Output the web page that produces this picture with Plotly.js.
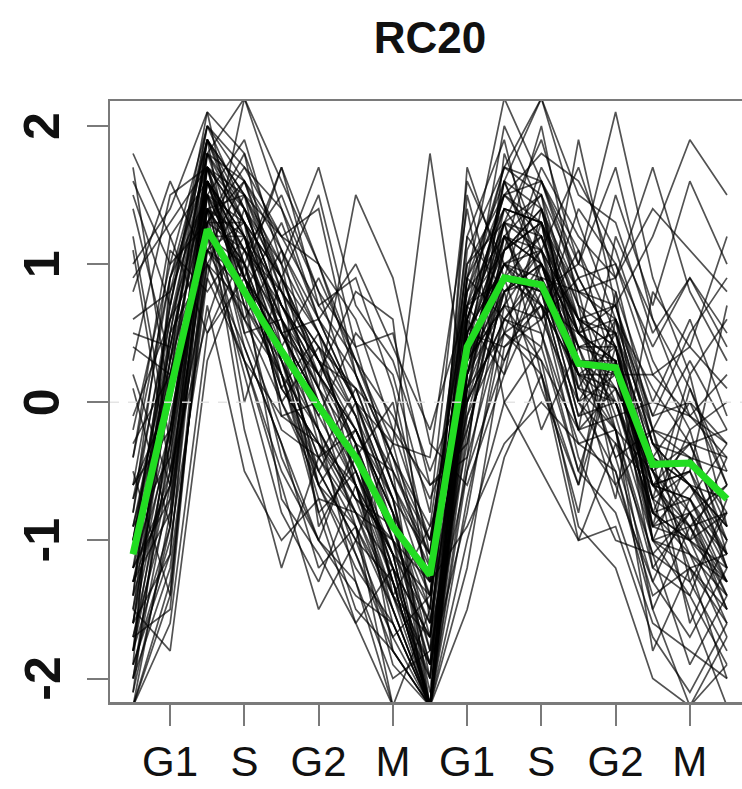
<!DOCTYPE html>
<html>
<head>
<meta charset="utf-8">
<script src="https://cdn.plot.ly/plotly-3.0.1.min.js"></script>
<style>
html,body{margin:0;padding:0;overflow:hidden;background:#fff;}
#chart{width:750px;height:789px;}
</style>
</head>
<body>
<div id="chart"></div>
<script>
// time points (17 samples across two cell cycles)
const timepoints = [1,2,3,4,5,6,7,8,9,10,11,12,13,14,15,16,17];
const tickPositions = [2,4,6,8,10,12,14,16];
const tickLabels = ["G1","S","G2","M","G1","S","G2","M"];
const yTickValues = [-2,-1,0,1,2];
const yTickLabels = ["-2","-1","0","1","2"];

// cluster mean profile (green)
const meanProfile = [-1.1,0.05,1.25,0.8,0.37,-0.03,-0.4,-0.9,-1.25,0.4,0.9,0.85,0.28,0.25,-0.45,-0.44,-0.7];

// individual gene profiles (black)
const g01 = [-1.8,-0.5,1.6,1.2,0.6,0.1,-0.5,-1.2,-2.2,0.2,1.1,1.3,0.5,0.3,-0.8,-1.0,-1.3];
const g02 = [-1.5,0.3,1.9,1.5,0.9,0.2,-0.2,-0.9,-1.9,0.6,1.5,1.2,0.6,0.0,-0.6,-0.9,-1.5];
const g03 = [-2.2,-0.8,1.4,1.0,0.3,-0.4,-0.8,-1.5,-2.2,-0.2,0.8,1.0,0.1,-0.2,-1.1,-1.3,-1.8];
const g04 = [1.8,1.2,0.5,0.9,1.7,1.0,0.2,-0.6,-1.4,1.2,1.9,0.8,1.0,1.7,0.6,0.1,-0.5];
const g05 = [1.5,0.7,2.1,1.8,1.1,0.5,0.0,-0.7,-1.1,0.9,2.2,1.6,0.8,0.9,-0.2,0.3,-0.2];
const g06 = [-0.9,0.4,1.7,0.6,0.2,-0.6,-1.2,-1.6,-2.2,0.0,0.6,0.5,-0.3,-0.5,-1.4,-1.2,-1.6];
const g07 = [-1.2,-0.2,1.3,1.6,0.8,0.4,-0.1,-1.0,-1.6,0.3,1.2,1.5,0.9,0.4,-0.3,-0.6,-0.9];
const g08 = [0.8,1.6,1.0,0.3,-0.5,-1.0,-1.3,-2.0,-1.8,-0.5,0.3,0.9,0.4,-0.2,-1.5,-2.2,-1.9];
const g09 = [-2.0,-1.2,0.9,2.2,1.4,0.6,0.2,-0.4,-1.0,0.8,1.7,2.2,1.3,0.6,0.1,-0.3,-0.2];
const g10 = [-0.4,0.9,1.5,0.4,-0.3,-1.2,-0.9,-2.2,-2.2,-1.0,0.0,0.4,-0.5,-0.8,-1.6,-1.8,-2.0];
const g11 = [1.2,-0.3,1.8,1.3,0.5,-0.1,0.5,0.2,-0.8,1.6,1.0,0.6,1.4,1.0,0.4,0.9,0.4];
const g12 = [-1.6,0.1,1.2,0.2,-0.8,-1.3,-0.6,-1.1,-1.4,0.1,0.5,0.2,-0.6,0.8,-1.0,-0.4,-1.2];
const g13 = [-0.2,1.0,2.0,1.4,1.0,1.7,0.7,0.3,-0.5,0.2,1.3,1.9,1.0,2.1,0.9,0.2,0.6];
const g14 = [-1.9,-1.0,0.7,-0.5,-1.0,-0.7,-1.5,-1.8,-2.2,-1.5,-0.4,0.2,-1.0,-0.9,-1.7,-2.1,-1.6];
const g15 = [0.4,0.2,1.1,0.8,1.3,0.6,1.0,0.4,-0.2,0.7,0.3,1.0,0.5,0.7,1.2,1.9,1.5];
const g16 = [-1.3,-0.6,1.5,1.9,1.0,-0.2,-0.7,-0.9,-1.3,0.5,1.0,0.7,0.2,0.1,-0.5,-0.3,-0.9];
const g17 = [-0.7,0.6,1.8,1.0,0.0,-0.5,-1.0,-1.3,-2.2,0.9,1.4,1.3,0.0,0.5,-0.9,-0.6,-1.1];
const g18 = [1.0,1.4,2.1,0.9,0.4,0.9,0.3,-0.3,1.8,0.0,0.6,0.4,1.9,0.7,-0.1,0.5,0.9];
const g19 = [-2.2,-1.6,0.5,1.1,1.5,0.8,0.0,-1.4,-1.9,-0.8,0.7,1.6,1.1,0.2,-0.7,-1.5,-2.2];
const g20 = [-1.0,0.0,1.4,-0.2,-1.2,-0.4,0.1,-0.6,-1.1,1.2,0.8,-0.2,0.4,-0.4,-0.2,-1.0,-0.4];
const g21 = [0.1,-0.9,1.6,1.1,0.7,0.3,-0.3,-1.8,-2.2,0.4,1.6,0.9,-0.1,0.3,-1.2,-0.8,-1.4];
const g22 = [-1.4,0.5,1.0,1.5,0.4,-0.8,-1.6,-1.2,-1.7,-0.3,1.1,2.0,0.7,-0.6,-0.2,-1.3,-0.8];
const g23 = [1.4,0.3,1.9,0.5,-0.2,-0.4,-0.2,-0.8,-1.5,1.5,0.5,0.3,-0.2,1.2,0.6,-0.1,0.2];
const g24 = [-0.5,-1.4,1.3,1.7,1.2,1.0,0.6,-0.2,-0.6,-0.4,1.8,1.1,0.6,-0.1,0.0,0.6,-0.1];
const g25 = [-1.7,-0.4,1.7,0.7,-0.4,-1.0,-0.3,-0.5,-2.2,0.6,0.2,1.4,0.3,0.2,-0.4,-1.6,-1.0];
const g26 = [-0.8,1.1,0.8,1.2,0.1,0.5,-0.6,-1.4,-0.9,1.0,1.3,0.2,-0.8,0.6,-0.9,0.1,-0.6];
const g27 = [0.6,0.8,1.5,0.0,0.9,-0.9,-0.4,0.0,-1.2,-0.1,0.9,1.7,1.2,0.9,1.7,0.8,0.3];
const g28 = [-2.1,-0.1,1.1,1.3,-0.1,0.0,-0.9,-1.9,-2.2,-1.2,0.4,0.7,-0.4,-1.0,-1.1,-1.9,-1.4];
const g29 = [-1.1,0.7,2.0,1.7,1.4,0.8,0.4,-0.5,-1.0,0.8,1.5,1.8,1.6,1.1,0.3,-0.2,0.0];
const g30 = [0.2,-0.6,0.9,0.3,-0.6,-1.5,-1.0,-0.3,-0.4,1.4,0.0,-0.5,-1.0,-0.3,-0.6,-0.5,0.7];
const g31 = [-1.6,-1.1,1.6,0.9,0.5,0.2,0.8,0.6,-1.6,0.3,1.2,0.6,0.9,0.4,-0.5,-1.1,-1.7];
const g32 = [1.6,1.0,1.3,1.8,0.6,-0.3,-1.1,-1.7,-1.4,0.5,2.0,1.4,0.3,-0.4,-1.3,-0.7,-0.3];
const g33 = [-0.3,0.2,1.2,0.6,1.1,0.1,1.5,0.9,-0.3,-0.6,0.2,0.8,0.2,-0.7,0.8,0.4,1.2];
const g34 = [-1.9,0.9,1.9,1.2,0.2,-0.8,-0.5,-1.1,-2.2,0.1,1.3,0.5,-0.5,0.4,-1.0,-1.4,-0.7];
const g35 = [-1.2,-0.7,1.0,0.7,0.3,-0.2,-1.3,-2.2,-1.5,0.9,0.6,0.9,0.8,-0.2,-1.8,-1.2,-2.0];
const g36 = [0.9,1.3,1.7,1.4,0.7,0.3,0.1,-0.2,-1.0,0.4,1.0,1.2,0.5,0.2,0.2,-0.1,-0.4];
const g37 = [-0.6,0.0,1.4,0.5,0.6,-0.6,-0.2,-0.7,-1.8,1.7,0.9,0.1,-0.6,0.3,-0.8,-0.2,-1.1];
const g38 = [-1.5,-1.8,0.3,1.0,0.0,0.4,-0.4,-1.3,-2.2,-0.7,0.5,1.3,0.0,-0.5,-1.5,-0.9,-1.3];
const g39 = [0.5,0.4,1.8,2.2,1.6,1.0,0.3,-0.1,-0.7,0.0,1.6,2.2,1.5,1.3,0.5,0.9,0.5];
const g40 = [-1.3,-0.3,1.6,0.8,-0.7,-1.1,-1.6,-2.2,-2.2,0.2,0.7,0.3,-0.9,-1.2,-2.0,-2.2,-1.7];
const g41 = [-0.1,0.6,1.1,1.6,1.2,1.4,0.2,-0.4,-0.9,-0.2,0.8,1.1,1.7,0.9,1.4,1.1,0.8];
const g42 = [-1.8,-0.9,1.5,1.1,0.4,-0.5,0.0,-0.3,-1.3,0.6,1.4,1.0,0.2,0.0,-0.7,0.2,-0.9];
const g43 = [1.7,0.0,1.4,0.9,0.2,-0.7,-0.8,-1.4,-1.7,1.1,1.7,1.5,0.1,0.6,-0.3,-0.8,-0.6];
const g44 = [-1.0,0.3,1.2,1.0,1.7,0.7,0.9,0.1,-1.1,0.5,0.4,0.6,1.1,0.5,-0.4,0.0,-0.3];
const g45 = [-2.2,-1.3,1.0,0.4,-0.3,-1.0,-1.4,-1.6,-2.2,-0.5,0.9,0.8,-0.2,-0.6,-1.3,-1.7,-1.2];
const g46 = [0.3,1.5,1.7,1.3,0.5,0.6,0.0,-0.5,-1.1,1.0,1.5,1.6,0.9,1.0,0.2,0.4,0.1];
const g47 = [-0.6,-0.2,1.3,0.3,-0.1,-0.3,-0.7,-1.0,-1.3,-0.9,-0.3,0.0,-0.3,-0.2,-0.5,-0.9,-0.8];
const g48 = [-1.4,0.8,1.9,1.5,0.8,0.0,-0.4,-1.2,-2.0,0.7,1.1,1.4,0.7,0.2,-0.6,-0.5,-1.0];
const g49 = [1.1,-0.5,0.6,1.4,0.9,1.5,0.4,0.5,-0.6,-0.3,1.2,0.7,0.5,1.5,0.7,1.6,1.0];
const g50 = [-1.7,-1.5,1.2,1.2,0.3,-0.6,-1.1,-1.8,-2.2,0.3,0.7,1.1,0.0,-0.3,-1.1,-0.8,-1.5];
const g51 = [-1.3,-0.8,1.7,1.3,0.9,0.3,-0.2,-0.8,-2.1,0.5,1.2,1.0,0.4,0.4,-0.6,-0.7,-1.1];
const g52 = [-0.9,0.2,1.6,1.2,0.5,0.0,-0.6,-1.1,-1.6,0.4,1.0,0.9,0.3,0.1,-0.4,-0.6,-0.9];
const g53 = [-1.6,-0.3,1.4,1.0,0.6,0.1,-0.3,-1.0,-1.9,0.2,0.9,1.2,0.5,0.3,-0.7,-0.5,-1.2];
const g54 = [-1.0,0.5,1.8,1.4,0.7,0.2,-0.5,-1.3,-2.2,0.6,1.3,1.1,0.2,0.2,-0.9,-1.0,-0.8];
const g55 = [-2.0,-0.6,1.5,0.9,0.1,-0.3,-0.6,-1.6,-2.2,0.1,0.8,0.9,-0.1,0.0,-0.8,-1.1,-1.3];
const g56 = [-0.7,0.1,1.3,1.1,0.8,0.4,0.1,-0.6,-1.2,0.7,1.4,1.3,0.6,0.5,-0.2,-0.4,-0.5];
const g57 = [-1.2,0.4,1.6,0.7,0.2,-0.2,-0.8,-1.2,-1.7,0.3,0.7,0.6,0.0,0.2,-0.6,-0.3,-1.0];
const g58 = [-1.8,-0.2,1.7,1.5,1.0,0.5,0.0,-0.7,-2.0,0.4,1.6,1.4,0.8,0.6,-0.3,-0.6,-0.7];
const g59 = [-1.4,-0.5,1.1,0.6,0.0,-0.6,-0.9,-1.4,-2.2,-0.1,0.5,0.7,-0.2,-0.1,-1.0,-0.9,-1.4];
const g60 = [-0.8,0.7,1.9,1.3,0.6,0.2,-0.2,-0.8,-1.4,0.8,1.2,1.0,0.5,0.6,-0.1,0.0,-0.6];
const g61 = [-1.5,-0.2,1.6,1.1,0.5,0.0,-0.5,-1.1,-2.2,0.3,1.0,1.1,0.4,0.3,-0.6,-0.7,-1.2];
const g62 = [-2.1,-0.9,1.3,1.3,0.7,0.2,-0.3,-1.3,-2.2,0.6,1.3,1.5,0.6,0.4,-0.8,-1.0,-1.6];
const g63 = [-1.0,0.6,1.5,0.9,0.4,-0.2,-0.7,-1.4,-2.0,0.5,1.0,0.8,0.1,0.0,-0.9,-0.8,-1.3];
const g64 = [-1.7,-0.7,1.8,1.6,1.1,0.6,0.0,-0.8,-2.2,0.2,1.4,1.3,0.7,0.5,-0.4,-0.6,-1.0];
const g65 = [-0.6,0.9,1.7,1.0,0.3,-0.4,-0.9,-1.5,-2.2,0.7,0.9,0.7,0.2,0.4,-0.7,-0.9,-0.6];
const g66 = [-1.9,-1.1,1.4,1.2,0.8,0.3,-0.1,-0.9,-1.8,0.1,1.1,1.4,0.5,0.1,-0.5,-1.2,-1.5];
const g67 = [-1.3,0.0,1.9,1.4,0.7,0.1,-0.6,-1.5,-2.2,0.4,1.3,1.2,0.3,0.3,-1.0,-1.2,-1.1];
const g68 = [-0.4,1.2,1.6,0.8,0.1,-0.3,-0.8,-1.0,-1.5,0.9,1.6,1.0,0.6,0.7,-0.2,-0.3,-0.4];
const g69 = [-2.2,-1.4,1.1,0.9,0.5,0.0,-0.4,-1.2,-2.2,-0.4,0.6,1.0,0.2,-0.2,-1.2,-1.4,-1.9];
const g70 = [-1.1,0.3,1.5,1.3,0.9,0.5,-0.1,-0.7,-1.7,0.5,1.1,1.3,0.8,0.7,-0.3,-0.4,-0.8];
const g71 = [-1.6,0.2,1.7,0.9,0.2,-0.5,-1.0,-1.7,-2.2,0.0,0.9,0.8,-0.2,0.1,-1.0,-1.1,-1.4];
const g72 = [-0.9,-0.4,1.4,1.5,1.2,0.7,0.3,-0.4,-1.3,0.7,1.7,1.6,1.0,0.8,0.0,-0.1,-0.3];
const g73 = [-1.8,0.5,2.0,1.6,0.9,0.3,-0.3,-1.0,-2.2,0.6,1.5,1.3,0.4,0.5,-0.5,-0.8,-1.1];
const g74 = [-1.2,-0.6,1.2,0.8,0.4,-0.1,-0.6,-1.3,-1.9,0.3,0.8,1.0,0.3,0.0,-0.8,-0.7,-1.3];
const g75 = [-2.0,-0.3,1.6,1.2,0.6,0.0,-0.4,-1.1,-2.2,0.2,1.2,1.1,0.6,0.4,-0.6,-1.0,-1.2];

const geneProfiles = [g01,g02,g03,g04,g05,g06,g07,g08,g09,g10,g11,g12,g13,g14,g15,g16,g17,g18,g19,g20,
  g21,g22,g23,g24,g25,g26,g27,g28,g29,g30,g31,g32,g33,g34,g35,g36,g37,g38,g39,g40,
  g41,g42,g43,g44,g45,g46,g47,g48,g49,g50,g51,g52,g53,g54,g55,g56,g57,g58,g59,g60,
  g61,g62,g63,g64,g65,g66,g67,g68,g69,g70,g71,g72,g73,g74,g75];

const FONT = "Liberation Sans, Arial, Helvetica, sans-serif";
const traces = geneProfiles.map(v => ({
  x: timepoints, y: v, type: "scatter", mode: "lines",
  line: {color: "rgba(0,0,0,0.68)", width: 1.7},
  hoverinfo: "skip", showlegend: false
}));
traces.push({
  x: timepoints, y: meanProfile, type: "scatter", mode: "lines",
  line: {color: "rgb(34,221,34)", width: 7},
  showlegend: false
});

// rotated y tick labels placed on the y axis scale
const yLabelAnnotations = yTickValues.map((v, i) => ({
  xref: "paper", x: -0.106, xanchor: "center",
  yref: "y", y: v, yanchor: "middle",
  text: "<b>" + yTickLabels[i] + "</b>", textangle: -90, showarrow: false,
  font: {family: FONT, size: 50, color: "#111"}
}));

const layout = {
  width: 750, height: 789,
  margin: {l: 110, r: 0, t: 101, b: 87},
  paper_bgcolor: "#fff", plot_bgcolor: "#fff",
  showlegend: false,
  font: {family: FONT, color: "#111"},
  title: {
    text: "<b>RC20</b>", font: {family: FONT, size: 44, color: "#111"},
    xref: "paper", x: 0.5, xanchor: "center",
    yref: "container", y: 0.952, yanchor: "middle"
  },
  xaxis: {
    range: [0.38, 17.62], showgrid: false, zeroline: false,
    showline: true, linecolor: "#7a7a7a", linewidth: 2.5, mirror: true,
    tickmode: "array", tickvals: tickPositions, ticktext: tickLabels,
    ticks: "outside", ticklen: 21, tickwidth: 2, tickcolor: "#7a7a7a",
    tickfont: {family: FONT, size: 42, color: "#111"}
  },
  yaxis: {
    range: [-2.17, 2.18], showgrid: false, zeroline: false,
    showline: true, linecolor: "#7a7a7a", linewidth: 2.5,
    tickmode: "array", tickvals: yTickValues, showticklabels: false,
    ticks: "outside", ticklen: 21, tickwidth: 2, tickcolor: "#7a7a7a"
  },
  annotations: yLabelAnnotations,
  shapes: [{
    type: "line", xref: "paper", x0: 0, x1: 1, yref: "y", y0: 0, y1: 0,
    line: {color: "rgba(225,225,225,0.9)", width: 1.5, dash: "dash"}, layer: "above"
  }]
};

Plotly.newPlot("chart", traces, layout, {displayModeBar: false, staticPlot: true});
</script>
</body>
</html>
